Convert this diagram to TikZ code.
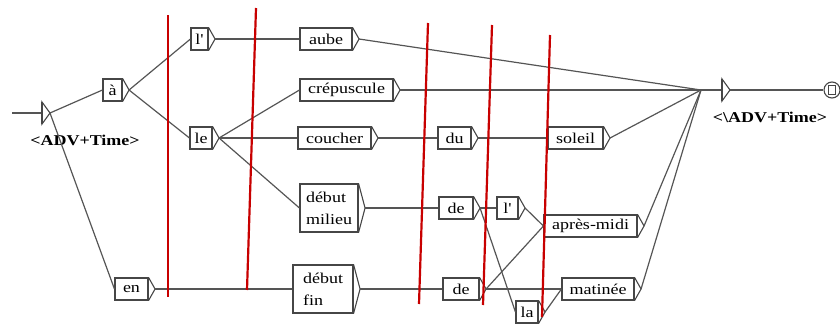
\documentclass[tikz,border=0pt]{standalone}
\usepackage{fontspec}
\newfontfamily\uf{Liberation Serif}[FakeStretch=1.2]
\definecolor{edgegray}{RGB}{85,85,85}
\definecolor{boxgray}{RGB}{70,70,70}
\definecolor{annotred}{RGB}{200,0,0}
\tikzset{
  ubx/.style={draw=boxgray, line width=1.1pt, rectangle, inner sep=0pt, font=\uf\fontsize{15}{22}\selectfont, align=left},
  bxline/.style={draw=boxgray, line width=1.1pt, line join=miter},
  edge/.style={draw=edgegray, line width=1.2pt},
  redline/.style={draw=annotred, line width=2.2pt},
  lbl/.style={font=\uf\bfseries\fontsize{15}{18}\selectfont, inner sep=0pt}
}
\newcommand\ubox[6]{%
  \node[ubx, minimum width=#4pt, minimum height=#5pt] (#1) at (#2,#3) {#6};
  \draw[bxline] (#1.north east) -- ([xshift=6.5pt]#1.east) coordinate (#1-out) -- (#1.south east);
}
\begin{document}
\begin{tikzpicture}[x=1pt,y=-1pt]
\useasboundingbox (0,0) rectangle (840,327);
% initial state
\coordinate (start) at (12,113);
\coordinate (ini) at (42,113);
\coordinate (ini-out) at (50,113);
\draw[edge] (start) -- (ini);
\draw[bxline, fill=white] (42,102) -- (ini-out) -- (42,124) -- cycle;
\draw[boxgray, line width=2pt] (42,102) -- (42,124);
\node[lbl] (inilbl) at (85,140) {<ADV+Time>};
% boxes
\ubox{a}{112.5}{90}{19}{22}{à}
\ubox{l1}{199.5}{39}{17}{22}{l'}
\ubox{aube}{326}{39}{52}{22}{aube}
\ubox{crep}{346.5}{90}{93}{22}{crépuscule}
\ubox{le}{201}{138}{22}{22}{le}
\ubox{couch}{334.5}{138}{73}{22}{coucher}
\ubox{du}{454.5}{138}{33}{22}{du}
\ubox{soleil}{575.5}{138}{55}{22}{soleil}
\ubox{dm}{329}{208}{58}{48}{début\\milieu}
\ubox{de1}{456}{208}{34}{22}{de}
\ubox{l2}{507.5}{208}{21}{22}{l'}
\ubox{apm}{590.5}{226}{93}{22}{après-midi}
\ubox{df}{323}{289}{60}{48}{début\\fin}
\ubox{de2}{461}{289}{36}{22}{de}
\ubox{la}{527}{312}{22}{22}{la}
\ubox{mat}{598}{289}{72}{22}{matinée}
\ubox{en}{131.5}{289}{33}{22}{en}
% final part
\coordinate (junc) at (701,90);
\coordinate (fin) at (722,90);
\coordinate (fin-out) at (730,90);
\node[draw=boxgray, line width=1.1pt, circle, minimum size=16pt, inner sep=0pt] (final) at (832,90) {};
\draw[bxline] ([xshift=-3.5pt,yshift=-4.5pt]final.center) rectangle ([xshift=3.5pt,yshift=4.5pt]final.center);
\node[lbl] (finlbl) at (770,117) {<\textbackslash ADV+Time>};
% edges
\draw[edge] (ini-out) -- (a.west);
\draw[edge] (ini-out) -- (en.west);
\draw[edge] (a-out) -- (l1.west);
\draw[edge] (a-out) -- (le.west);
\draw[edge] (l1-out) -- (aube.west);
\draw[edge] (le-out) -- (crep.west);
\draw[edge] (le-out) -- (couch.west);
\draw[edge] (le-out) -- (dm.west);
\draw[edge] (couch-out) -- (du.west);
\draw[edge] (du-out) -- (soleil.west);
\draw[edge] (dm-out) -- (de1.west);
\draw[edge] (de1-out) -- (l2.west);
\draw[edge] (de1-out) -- (la.west);
\draw[edge] (l2-out) -- (apm.west);
\draw[edge] (en-out) -- (df.west);
\draw[edge] (df-out) -- (de2.west);
\draw[edge] (de2-out) -- (apm.west);
\draw[edge] (de2-out) -- (mat.west);
\draw[edge] (la-out) -- (mat.west);
\draw[edge] (aube-out) -- (junc);
\draw[edge] (crep-out) -- (junc);
\draw[edge] (soleil-out) -- (junc);
\draw[edge] (apm-out) -- (junc);
\draw[edge] (mat-out) -- (junc);
\draw[edge] (junc) -- (fin);
\draw[bxline, fill=white] (722,79) -- (fin-out) -- (722,101) -- cycle;
\draw[boxgray, line width=2pt] (722,79) -- (722,101);
\draw[edge] (fin-out) -- (final.west);
% red annotation lines
\draw[redline] (168,15) -- (168,297);
\draw[redline] (256,8) -- (247,290);
\draw[redline] (428,23) -- (419,304);
\draw[redline] (492,25) -- (483,305);
\draw[redline] (550,35) -- (542,317);
\end{tikzpicture}
\end{document}
